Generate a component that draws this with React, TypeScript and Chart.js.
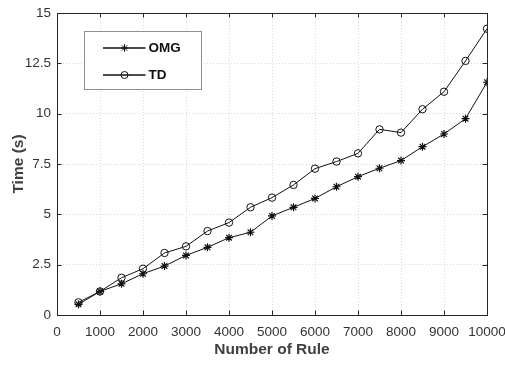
import React, { useEffect, useRef } from "react";
import { Chart, registerables } from "chart.js";

Chart.register(...registerables);

const ruleCounts = [500, 1000, 1500, 2000, 2500, 3000, 3500, 4000, 4500, 5000, 5500, 6000, 6500, 7000, 7500, 8000, 8500, 9000, 9500, 10000];
const omgTimes = [0.53, 1.17, 1.55, 2.05, 2.43, 2.96, 3.36, 3.84, 4.11, 4.92, 5.35, 5.79, 6.37, 6.87, 7.29, 7.67, 8.36, 8.99, 9.75, 11.56];
const tdTimes = [0.63, 1.17, 1.85, 2.3, 3.08, 3.41, 4.17, 4.59, 5.35, 5.83, 6.46, 7.27, 7.62, 8.03, 9.22, 9.06, 10.22, 11.09, 12.62, 14.22];
const seriesNames = ["OMG", "TD"];
const xTitle = "Number of Rule";
const yTitle = "Time (s)";

const FONT = "'Liberation Sans', Arial, Helvetica, sans-serif";
const LINE = "#111111";

function drawMarker(ctx: CanvasRenderingContext2D, style: string, x: number, y: number, r: number) {
  ctx.beginPath();
  if (style === "star") {
    for (let i = 0; i < 4; i++) {
      const a = (i * Math.PI) / 4;
      ctx.moveTo(x - Math.cos(a) * r, y - Math.sin(a) * r);
      ctx.lineTo(x + Math.cos(a) * r, y + Math.sin(a) * r);
    }
  } else {
    ctx.arc(x, y, r, 0, Math.PI * 2);
  }
  ctx.stroke();
}

const framePlugin = {
  id: "frameAndLegend",
  afterDraw(chart: any) {
    const { ctx, chartArea } = chart;
    const { left, right, top, bottom } = chartArea;
    const xs = chart.scales.x;
    const ys = chart.scales.y;
    ctx.save();
    // frame
    ctx.strokeStyle = "#262626";
    ctx.lineWidth = 1;
    ctx.setLineDash([]);
    ctx.strokeRect(Math.round(left) + 0.5, Math.round(top) + 0.5, Math.round(right - left), Math.round(bottom - top));
    // inward ticks
    const tl = 4.5;
    ctx.beginPath();
    xs.ticks.forEach((t: any) => {
      const px = Math.round(xs.getPixelForValue(t.value)) + 0.5;
      ctx.moveTo(px, bottom);
      ctx.lineTo(px, bottom - tl);
      ctx.moveTo(px, top);
      ctx.lineTo(px, top + tl);
    });
    ys.ticks.forEach((t: any) => {
      const py = Math.round(ys.getPixelForValue(t.value)) + 0.5;
      ctx.moveTo(left, py);
      ctx.lineTo(left + tl, py);
      ctx.moveTo(right, py);
      ctx.lineTo(right - tl, py);
    });
    ctx.stroke();

    // legend
    const bx = Math.round(left + 27) + 0.5;
    const by = Math.round(top + 18) + 0.5;
    const bw = 117;
    const bh = 58;
    ctx.fillStyle = "#ffffff";
    ctx.fillRect(bx, by, bw, bh);
    ctx.strokeStyle = "#8f8f8f";
    ctx.lineWidth = 1;
    ctx.strokeRect(bx, by, bw, bh);
    const rows = [by + 16.5, by + 43.5];
    chart.data.datasets.forEach((ds: any, i: number) => {
      const y = rows[i];
      ctx.strokeStyle = LINE;
      ctx.lineWidth = 1.6;
      ctx.beginPath();
      ctx.moveTo(bx + 18.5, y);
      ctx.lineTo(bx + 61, y);
      ctx.stroke();
      ctx.lineWidth = 1;
      drawMarker(ctx, ds.pointStyle, bx + 40, y, ds.pointStyle === "star" ? 3.8 : 3.5);
      ctx.fillStyle = "#111111";
      ctx.font = `bold 13.5px ${FONT}`;
      ctx.textAlign = "left";
      ctx.textBaseline = "middle";
      ctx.fillText(ds.label, bx + 64, y + 0.5);
    });
    ctx.restore();
  },
};

export default function App() {
  const ref = useRef<HTMLCanvasElement | null>(null);
  useEffect(() => {
    document.body.style.margin = "0";
    const canvas = ref.current;
    if (!canvas) return;
    const chart = new Chart(canvas, {
      type: "line",
      data: {
        datasets: [
          {
            label: seriesNames[0],
            data: ruleCounts.map((x, i) => ({ x, y: omgTimes[i] })),
            borderColor: LINE,
            backgroundColor: "rgba(0,0,0,0)",
            borderWidth: 1,
            pointStyle: "star",
            pointRadius: 4,
            pointBorderWidth: 1.2,
            pointBorderColor: LINE,
            tension: 0,
          },
          {
            label: seriesNames[1],
            data: ruleCounts.map((x, i) => ({ x, y: tdTimes[i] })),
            borderColor: LINE,
            backgroundColor: "rgba(0,0,0,0)",
            borderWidth: 1,
            pointStyle: "circle",
            pointRadius: 3.7,
            pointBorderWidth: 1,
            pointBorderColor: LINE,
            pointBackgroundColor: "rgba(0,0,0,0)",
            tension: 0,
          },
        ],
      },
      options: {
        animation: false,
        responsive: false,
        devicePixelRatio: 1,
        layout: { padding: { left: 0, right: 18, top: 13, bottom: 0 } },
        plugins: {
          legend: { display: false },
          tooltip: { enabled: false },
        },
        scales: {
          x: {
            type: "linear",
            min: 0,
            max: 10000,
            ticks: {
              stepSize: 1000,
              color: "#333333",
              font: { family: FONT, size: 13.5 },
              padding: 9,
              maxRotation: 0,
              autoSkip: false,
              callback: (v: any) => String(v),
            },
            grid: { color: "#d9d9d9", lineWidth: 1, drawTicks: false },
            border: { display: false, dash: [1, 2] },
            title: {
              display: true,
              text: xTitle,
              color: "#404040",
              font: { family: FONT, size: 15.5, weight: "bold" },
              padding: { top: 0, bottom: 5.5 },
            },
            afterFit: (s: any) => {
              s.height = 50;
              s.paddingLeft = 0;
              s.paddingRight = 0;
            },
          },
          y: {
            type: "linear",
            min: 0,
            max: 15,
            ticks: {
              stepSize: 2.5,
              color: "#333333",
              font: { family: FONT, size: 13.5 },
              padding: 6,
              autoSkip: false,
            },
            grid: { color: "#d9d9d9", lineWidth: 1, drawTicks: false },
            border: { display: false, dash: [1, 2] },
            title: {
              display: true,
              text: yTitle,
              color: "#404040",
              font: { family: FONT, size: 15.5, weight: "bold" },
              padding: { top: 9, bottom: 0 },
            },
            afterFit: (s: any) => {
              s.width = 57;
              s.paddingTop = 0;
              s.paddingBottom = 0;
            },
          },
        },
      },
      plugins: [framePlugin],
    });
    return () => chart.destroy();
  }, []);
  return (
    <div style={{ width: 505, height: 365 }}>
      <canvas ref={ref} width={505} height={365} style={{ display: "block" }} />
    </div>
  );
}
